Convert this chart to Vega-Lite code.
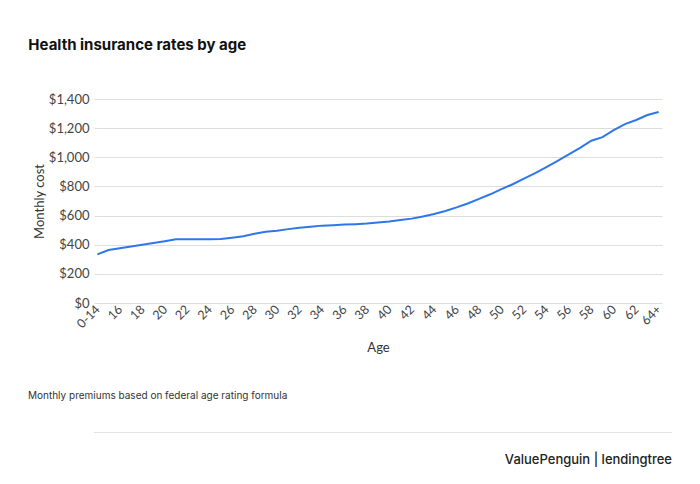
{
  "$schema": "https://vega.github.io/schema/vega-lite/v6.json",
  "padding": {"left": 28, "top": 38, "right": 10, "bottom": 10},
  "background": "white",
  "title": {
    "text": "ValuePenguin  |  lendingtree",
    "orient": "bottom",
    "anchor": "end",
    "offset": 21,
    "fontSize": 13,
    "font": "Inter",
    "fontWeight": 500,
    "color": "#222222"
  },
  "config": {
    "view": {"stroke": null},
    "font": "Lato"
  },
  "spacing": 36,
  "vconcat": [
    {
      "title": {
        "text": "Health insurance rates by age",
        "anchor": "start",
        "frame": "bounds",
        "dx": -5,
        "offset": 40,
        "fontSize": 15,
        "font": "Inter",
        "fontWeight": "bold",
        "color": "#111111"
      },
      "width": 568,
      "height": 204,
      "data": {
        "values": [
          {"age": "0-14", "cost": 334},
          {"age": "15", "cost": 364},
          {"age": "16", "cost": 375},
          {"age": "17", "cost": 387},
          {"age": "18", "cost": 399},
          {"age": "19", "cost": 411},
          {"age": "20", "cost": 424},
          {"age": "21", "cost": 437},
          {"age": "22", "cost": 437},
          {"age": "23", "cost": 437},
          {"age": "24", "cost": 437},
          {"age": "25", "cost": 439},
          {"age": "26", "cost": 448},
          {"age": "27", "cost": 458},
          {"age": "28", "cost": 475},
          {"age": "29", "cost": 489},
          {"age": "30", "cost": 496},
          {"age": "31", "cost": 507},
          {"age": "32", "cost": 517},
          {"age": "33", "cost": 524},
          {"age": "34", "cost": 531},
          {"age": "35", "cost": 534},
          {"age": "36", "cost": 538},
          {"age": "37", "cost": 541},
          {"age": "38", "cost": 545},
          {"age": "39", "cost": 552},
          {"age": "40", "cost": 559},
          {"age": "41", "cost": 569},
          {"age": "42", "cost": 579},
          {"age": "43", "cost": 593},
          {"age": "44", "cost": 611},
          {"age": "45", "cost": 631},
          {"age": "46", "cost": 656},
          {"age": "47", "cost": 683},
          {"age": "48", "cost": 715},
          {"age": "49", "cost": 746},
          {"age": "50", "cost": 781},
          {"age": "51", "cost": 815},
          {"age": "52", "cost": 853},
          {"age": "53", "cost": 892},
          {"age": "54", "cost": 933},
          {"age": "55", "cost": 975},
          {"age": "56", "cost": 1020},
          {"age": "57", "cost": 1065},
          {"age": "58", "cost": 1114},
          {"age": "59", "cost": 1138},
          {"age": "60", "cost": 1186},
          {"age": "61", "cost": 1228},
          {"age": "62", "cost": 1256},
          {"age": "63", "cost": 1290},
          {"age": "64+", "cost": 1311}
        ]
      },
      "mark": {"type": "line", "color": "#2f77e8", "strokeWidth": 2},
      "encoding": {
        "x": {
          "field": "age",
          "type": "ordinal",
          "sort": null,
          "scale": {"type": "point", "padding": 0.3},
          "axis": {
            "title": "Age",
            "titleFont": "Lato",
            "titleFontSize": 13,
            "titleFontWeight": "normal",
            "titleColor": "#333333",
            "titlePadding": 11,
            "values": ["0-14", "16", "18", "20", "22", "24", "26", "28", "30", "32", "34", "36", "38", "40", "42", "44", "46", "48", "50", "52", "54", "56", "58", "60", "62", "64+"],
            "labelAngle": -45,
            "labelAlign": "right",
            "labelBaseline": "middle",
            "labelFontSize": 12.5,
            "labelColor": "#444444",
            "labelPadding": 4,
            "domain": false,
            "ticks": false,
            "grid": false
          }
        },
        "y": {
          "field": "cost",
          "type": "quantitative",
          "scale": {"domain": [0, 1400]},
          "axis": {
            "title": "Monthly cost",
            "titleFont": "Lato",
            "titleFontSize": 13,
            "titleFontWeight": "normal",
            "titleColor": "#333333",
            "titlePadding": 2,
            "values": [0, 200, 400, 600, 800, 1000, 1200, 1400],
            "format": "$,.0f",
            "labelFontSize": 13,
            "labelColor": "#444444",
            "labelPadding": 5,
            "domain": false,
            "ticks": false,
            "grid": true,
            "gridColor": "#dddddd",
            "gridWidth": 1
          }
        }
      }
    },
    {
      "title": {
        "text": "Monthly premiums based on federal age rating formula",
        "anchor": "start",
        "dx": -66,
        "offset": 31,
        "fontSize": 10,
        "font": "Inter",
        "fontWeight": "normal",
        "color": "#333333"
      },
      "width": 578,
      "height": 1,
      "view": {"fill": "#e4e4e4", "stroke": null},
      "data": {"values": []},
      "mark": {"type": "text"},
      "encoding": {}
    }
  ]
}
